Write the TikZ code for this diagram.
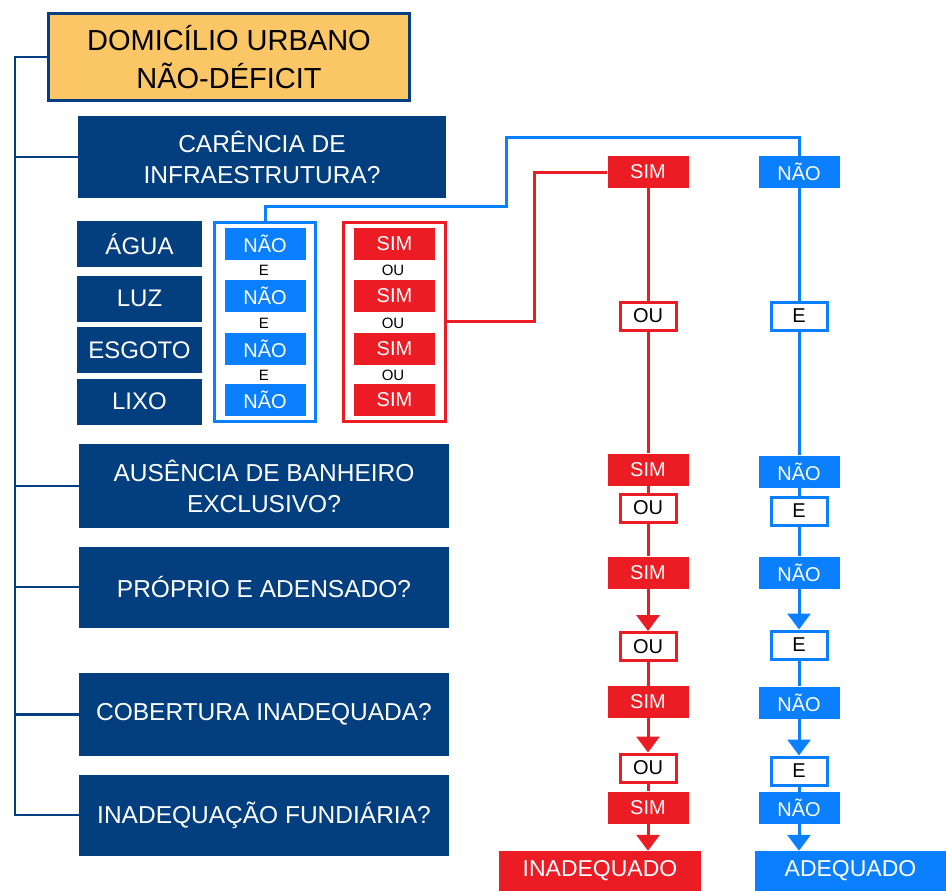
\documentclass[tikz,border=0pt]{standalone}
\usepackage{fontspec}
\setmainfont{Liberation Sans}
\usetikzlibrary{positioning, arrows.meta, fit}
\definecolor{navy}{HTML}{033F7E}
\definecolor{skyblue}{HTML}{0A7FFF}
\definecolor{alertred}{HTML}{EC1C24}
\definecolor{sand}{HTML}{FBC766}

\begin{document}
\begin{tikzpicture}[x=1pt, y=-1pt,
  titlebox/.style = {shape=rectangle, draw=navy, line width=3pt, fill=sand,
    align=center, minimum width=361pt, minimum height=87pt, inner sep=0pt,
    font=\fontsize{29}{38}\selectfont},
  askbox/.style = {shape=rectangle, fill=navy, text=white, align=center,
    minimum width=370pt, minimum height=81pt, inner sep=0pt,
    font=\fontsize{24.5}{31}\selectfont},
  itembox/.style = {shape=rectangle, fill=navy, text=white,
    minimum width=125pt, minimum height=46pt, inner sep=0pt,
    font=\fontsize{24}{28}\selectfont},
  naobox/.style = {shape=rectangle, fill=skyblue, text=white,
    minimum width=81pt, minimum height=32pt, inner sep=0pt,
    font=\fontsize{20}{24}\selectfont},
  simbox/.style = {naobox, fill=alertred},
  ebox/.style = {shape=rectangle, draw=skyblue, line width=3pt, fill=white,
    minimum width=56pt, minimum height=28pt, inner sep=0pt,
    font=\fontsize{20}{24}\selectfont},
  oubox/.style = {ebox, draw=alertred},
  endbox/.style = {shape=rectangle, text=white, minimum height=40pt,
    inner sep=0pt, font=\fontsize{23}{26}\selectfont},
  joiner/.style = {inner sep=0pt, font=\fontsize{15}{18}\selectfont},
  frame/.style = {shape=rectangle, line width=3pt, inner xsep=10pt, inner ysep=5pt},
  tree/.style = {draw=navy, line width=2.5pt},
  bline/.style = {draw=skyblue, line width=3pt},
  rline/.style = {draw=alertred, line width=3pt},
  tip/.style = {-{Triangle[width=23pt,length=16pt]}}
  ]
  \useasboundingbox (0,0) rectangle (946,891);

  % left column
  \node[titlebox] (main) at (229,57) {DOMICÍLIO URBANO\\NÃO-DÉFICIT};
  \node[askbox, minimum width=368pt] (infra) at (262,157) {CARÊNCIA DE\\INFRAESTRUTURA?};
  \node[askbox, minimum height=84pt] (banho) at (264,486) {AUSÊNCIA DE BANHEIRO\\EXCLUSIVO?};
  \node[askbox] (aden) at (264,587) {PRÓPRIO E ADENSADO?};
  \node[askbox, minimum height=83pt] (cober) at (264,714.5) {COBERTURA INADEQUADA?};
  \node[askbox] (fund) at (264,815) {INADEQUAÇÃO FUNDIÁRIA?};

  \node[itembox] (agua) at (139.5,244) {ÁGUA};
  \node[itembox] (luz) at (139.5,298.5) {LUZ};
  \node[itembox] (esgoto) at (139.5,350) {ESGOTO};
  \node[itembox] (lixo) at (139.5,401.5) {LIXO};

  \node[naobox] (n1) at (265,243.5) {NÃO};
  \node[naobox] (n2) at (265,295.5) {NÃO};
  \node[naobox] (n3) at (265,349) {NÃO};
  \node[naobox] (n4) at (265,400) {NÃO};
  \node[joiner] at (264,270) {E};
  \node[joiner] at (264,323) {E};
  \node[joiner] at (264,375) {E};
  \node[frame, draw=skyblue, fit=(n1)(n4)] (nframe) {};

  \node[simbox] (s1) at (394.5,243.5) {SIM};
  \node[simbox] (s2) at (394.5,295.5) {SIM};
  \node[simbox] (s3) at (394.5,349) {SIM};
  \node[simbox] (s4) at (394.5,400) {SIM};
  \node[joiner] at (393,270) {OU};
  \node[joiner] at (393,323) {OU};
  \node[joiner] at (393,375) {OU};
  \node[frame, draw=alertred, fit=(s1)(s4)] (sframe) {};

  \coordinate (trunk) at (15,815);
  \draw[tree] (main.west) -| (trunk) -- (fund.west);
  \draw[tree] (infra.west) -- (infra.west -| trunk);
  \draw[tree] (banho.west) -- (banho.west -| trunk);
  \draw[tree] (aden.west) -- (aden.west -| trunk);
  \draw[tree] (cober.west) -- (cober.west -| trunk);

  % red column
  \node[simbox] (si1) at (648,172) {SIM};
  \node[oubox] (ou1) at (648,316) {OU};
  \node[simbox] (si2) at (648,469.5) {SIM};
  \node[oubox] (ou2) at (648,508) {OU};
  \node[simbox] (si3) at (648,572.5) {SIM};
  \node[oubox] (ou3) at (648,646.5) {OU};
  \node[simbox] (si4) at (648,702) {SIM};
  \node[oubox] (ou4) at (648,768) {OU};
  \node[simbox] (si5) at (648,807.5) {SIM};
  \node[endbox, fill=alertred, minimum width=202pt] (inad) at (600,871) {INADEQUADO};

  % blue column
  \node[naobox] (na1) at (799,172) {NÃO};
  \node[ebox] (e1) at (799,316) {E};
  \node[naobox] (na2) at (799,471.5) {NÃO};
  \node[ebox] (e2) at (799,511) {E};
  \node[naobox] (na3) at (799,572.5) {NÃO};
  \node[ebox] (e3) at (799,645) {E};
  \node[naobox] (na4) at (799,702.5) {NÃO};
  \node[ebox] (e4) at (799,771) {E};
  \node[naobox] (na5) at (799,808) {NÃO};
  \node[endbox, fill=skyblue, minimum width=191pt] (adeq) at (850.5,871) {ADEQUADO};

  \coordinate (bturn) at (506,206);
  \coordinate (btop) at (506,137);
  \coordinate (rturn) at (534,172);
  \draw[bline] (nframe.north) |- (bturn) -- (btop) -| (na1.north);
  \draw[rline] (sframe.east) -| (rturn) -- (si1.west);

  \draw[rline] (si1) -- (ou1) -- (si2) -- (ou2) -- (si3);
  \draw[rline, tip] (si3) -- (ou3.north);
  \draw[rline] (ou3) -- (si4);
  \draw[rline, tip] (si4) -- (ou4.north);
  \draw[rline] (ou4) -- (si5);
  \draw[rline, tip] (si5) -- (si5 |- inad.north);

  \draw[bline] (na1) -- (e1) -- (na2) -- (e2) -- (na3);
  \draw[bline, tip] (na3) -- (e3.north);
  \draw[bline] (e3) -- (na4);
  \draw[bline, tip] (na4) -- (e4.north);
  \draw[bline] (e4) -- (na5);
  \draw[bline, tip] (na5) -- (na5 |- adeq.north);
\end{tikzpicture}
\end{document}
